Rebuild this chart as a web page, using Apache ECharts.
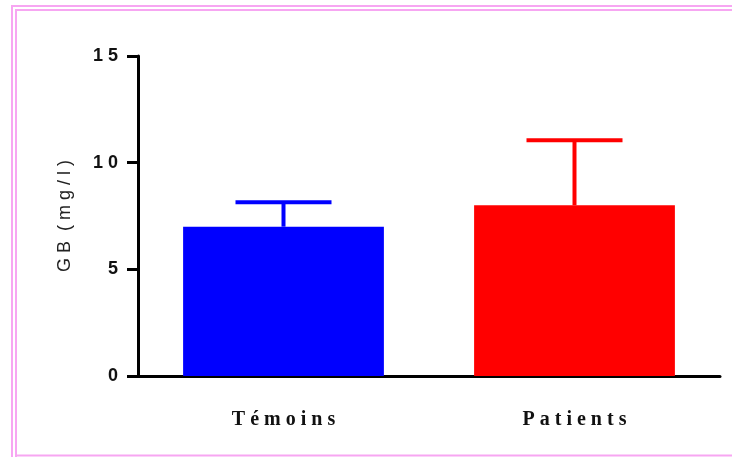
<!DOCTYPE html>
<html>
<head>
<meta charset="utf-8">
<script src="https://cdn.jsdelivr.net/npm/echarts@6/dist/echarts.min.js"></script>
<style>
html,body{margin:0;padding:0;background:#fff;}
#chart{width:732px;height:457px;}
</style>
</head>
<body>
<div id="chart"></div>
<script>
const categories = ['Témoins', 'Patients'];
const means = [7.0, 8.0];
const errUpper = [8.15, 11.05];
const barColors = ['#0000FF', '#FF0000'];
const yTicks = [0, 5, 10, 15];
const yTitle = 'GB (mg/l)';

const spaced = s => s.split('').join(' ');

const chart = echarts.init(document.getElementById('chart'));
chart.setOption({
  animation: false,
  backgroundColor: '#fff',
  graphic: [
    { type: 'polyline', shape: { points: [[12, 457], [12, 6], [740, 6]] }, style: { stroke: '#F7A6F2', lineWidth: 2, fill: null } },
    { type: 'polyline', shape: { points: [[16, 457], [16, 10], [740, 10]] }, style: { stroke: '#F7A6F2', lineWidth: 2, fill: null } },
    { type: 'line', shape: { x1: 16, y1: 455.5, x2: 740, y2: 455.5 }, style: { stroke: '#F7A6F2', lineWidth: 2 } }
  ],
  grid: { left: 138, right: 12, top: 56, bottom: 81 },
  xAxis: {
    type: 'category',
    data: categories,
    axisLine: { lineStyle: { color: '#000', width: 3 } },
    axisTick: { alignWithLabel: true, length: 8, lineStyle: { color: '#000', width: 3 } },
    axisLabel: {
      margin: 34,
      formatter: v => spaced(v),
      fontFamily: 'Liberation Serif',
      fontWeight: 'bold',
      fontSize: 20,
      color: '#111'
    }
  },
  yAxis: {
    type: 'value',
    min: 0,
    max: 15,
    interval: 5,
    name: spaced('GB') + '  ' + spaced('(mg/l)'),
    nameLocation: 'middle',
    nameGap: 64,
    nameTextStyle: { fontFamily: 'Liberation Sans', fontSize: 18, color: '#222' },
    axisLine: { show: true, lineStyle: { color: '#000', width: 3 } },
    axisTick: { show: true, length: 11, lineStyle: { color: '#000', width: 3 } },
    splitLine: { show: false },
    axisLabel: {
      margin: 20,
      formatter: v => yTicks.includes(v) ? spaced(String(v)) : '',
      fontFamily: 'Liberation Sans',
      fontWeight: 'bold',
      fontSize: 18,
      color: '#111'
    }
  },
  series: [
    {
      type: 'bar',
      barWidth: '69%',
      data: means.map((v, i) => ({ value: v, itemStyle: { color: barColors[i] } })),
      z: 2
    },
    {
      type: 'custom',
      z: 3,
      data: categories.map((c, i) => [i, means[i], errUpper[i]]),
      renderItem: function (params, api) {
        const i = api.value(0);
        const base = api.coord([i, api.value(1)]);
        const top = api.coord([i, api.value(2)]);
        const color = barColors[i];
        const hw = 48;
        return {
          type: 'group',
          children: [
            { type: 'line', shape: { x1: base[0], y1: base[1], x2: top[0], y2: top[1] }, style: { stroke: color, lineWidth: 4 } },
            { type: 'line', shape: { x1: top[0] - hw, y1: top[1], x2: top[0] + hw, y2: top[1] }, style: { stroke: color, lineWidth: 4 } }
          ]
        };
      }
    }
  ]
});
</script>
</body>
</html>
